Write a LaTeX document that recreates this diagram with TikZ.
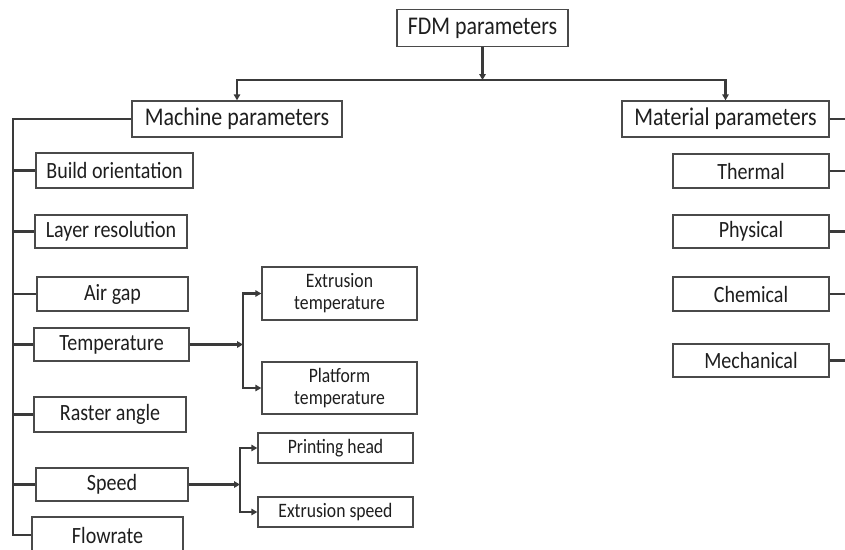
\documentclass[tikz,border=0pt]{standalone}
\usepackage{fontspec}
\setmainfont{Carlito}[FakeStretch=0.86]
\usetikzlibrary{arrows.meta}
\definecolor{linec}{HTML}{3A3A3A}
\definecolor{boxc}{HTML}{4A4A4A}
\definecolor{txtc}{HTML}{1E1E1E}
\begin{document}
\begin{tikzpicture}[x=1pt,y=-1pt,
  box/.style={draw=boxc,line width=1.4pt,fill=white,inner sep=0pt,text=txtc,align=center},
  bigf/.style={font=\fontsize{25.5}{26}\selectfont},
  medf/.style={font=\fontsize{23.3}{24}\selectfont},
  smallf/.style={font=\fontsize{20.5}{22}\selectfont},
  conn/.style={draw=linec,line width=2.8pt},
  arr/.style={conn,-{Triangle[length=6pt,width=6.5pt]}}
]
\useasboundingbox (0,0) rectangle (845,549);
% top
\node[box,bigf,minimum width=171pt,minimum height=37pt] (fdm) at (482.5,28) {FDM parameters};
\node[box,bigf,minimum width=210pt,minimum height=36pt] (machine) at (237,119) {Machine parameters};
\node[box,bigf,minimum width=207pt,minimum height=36pt] (material) at (725.5,119) {Material parameters};
% left column
\node[box,medf,minimum width=157pt,minimum height=35pt] (build) at (114.5,170.5) {Build orientation};
\node[box,medf,minimum width=152pt,minimum height=33pt] (layer) at (111,231.5) {Layer resolution};
\node[box,medf,minimum width=151pt,minimum height=34pt] (airgap) at (112.5,294) {Air gap};
\node[box,medf,minimum width=155pt,minimum height=33pt] (temp) at (111.5,344.5) {Temperature};
\node[box,medf,minimum width=152pt,minimum height=35pt] (raster) at (110,414.5) {Raster angle};
\node[box,medf,minimum width=152pt,minimum height=33pt] (speed) at (112,484.5) {Speed};
\node[box,medf,minimum width=151pt,minimum height=36pt] (flow) at (107.5,535) {Flowrate};
% sub boxes
\node[box,smallf,minimum width=155pt,minimum height=53pt] (ext) at (339.5,293.5) {Extrusion\\temperature};
\node[box,smallf,minimum width=155pt,minimum height=52pt] (plat) at (339.5,388) {Platform\\temperature};
\node[box,smallf,minimum width=155pt,minimum height=30pt] (phead) at (335.5,448) {Printing head};
\node[box,smallf,minimum width=155pt,minimum height=30pt] (espeed) at (335.5,512) {Extrusion speed};
% right column
\node[box,medf,minimum width=156pt,minimum height=34pt] (thermal) at (751,171) {Thermal};
\node[box,medf,minimum width=156pt,minimum height=33pt] (physical) at (751,231.5) {Physical};
\node[box,medf,minimum width=156pt,minimum height=34pt] (chemical) at (751,294) {Chemical};
\node[box,medf,minimum width=156pt,minimum height=33pt] (mechanical) at (751,360.5) {Mechanical};
% coordinates
\coordinate (hub) at (482.5,80);
\coordinate (trunk) at (13,0);
\coordinate (tb) at (243,344.5);
\coordinate (sb) at (240,484.5);
\coordinate (redge) at (845,0);
% top connectors
\draw[arr] (fdm.south) -- (hub);
\draw[arr] (hub) -| (machine.north);
\draw[arr] (hub) -| (material.north);
% trunk
\draw[conn] (machine.west) -- (machine.west -| trunk) -- (flow.west -| trunk) -- (flow.west);
\foreach \n in {build,layer,airgap,temp,raster,speed}
  \draw[conn] (\n.west -| trunk) -- (\n.west);
% temperature branch
\draw[arr] (temp.east) -- (tb);
\draw[arr] (tb) |- (ext.west);
\draw[arr] (tb) |- (plat.west);
% speed branch
\draw[arr] (speed.east) -- (sb);
\draw[arr] (sb) |- (phead.west);
\draw[arr] (sb) |- (espeed.west);
% right stubs
\foreach \n in {material,thermal,physical,chemical,mechanical}
  \draw[conn] (\n.east) -- (\n.east -| redge);
\end{tikzpicture}
\end{document}
